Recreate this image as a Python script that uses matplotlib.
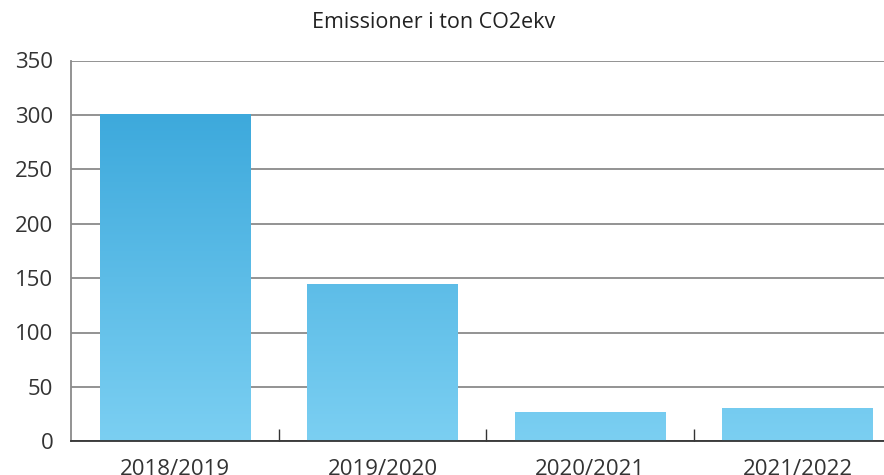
import numpy as np
import matplotlib.pyplot as plt
from matplotlib.colors import LinearSegmentedColormap

categories = ['2018/2019', '2019/2020', '2020/2021', '2021/2022']
values = [301, 145, 27, 31]
yticks = [0, 50, 100, 150, 200, 250, 300, 350]

plt.rcParams['font.family'] = ['Open Sans', 'DejaVu Sans']

W, H = 884, 475
fig = plt.figure(figsize=(W / 100, H / 100), dpi=100)
ax = fig.add_axes([71.25 / W, (H - 441.3) / H, (W - 71.25) / W, (441.3 - 60.5) / H])

x = np.arange(len(categories))
bars = ax.bar(x, values, width=0.723, color='none', edgecolor='none', zorder=3)

# vertical gradient shared by all bars (depends on value, not on bar)
cmap = LinearSegmentedColormap.from_list('blu', ['#7BCFF2', '#3DA9DC'])
grad = np.linspace(0, 1, 256).reshape(-1, 1)
for b in bars:
    im = ax.imshow(grad, cmap=cmap, origin='lower', aspect='auto',
                   extent=[-0.5, 3.5, 0, 301], zorder=3)
    im.set_clip_path(b)

ax.set_xlim(-0.5, 3.417)
ax.set_ylim(0, 350)
ax.set_yticks(yticks)
ax.set_yticklabels([str(v) for v in yticks])
ax.set_xticks(x)
ax.set_xticklabels(categories)
ax.set_xticks([0.5, 1.5, 2.5], minor=True)

ax.grid(axis='y', color='#8a8a8a', linewidth=1.3, zorder=1)
ax.set_axisbelow(True)
for s in ['top', 'right']:
    ax.spines[s].set_visible(False)
ax.spines['left'].set_color('#8a8a8a')
ax.spines['left'].set_linewidth(1.3)
ax.spines['bottom'].set_color('#333333')
ax.spines['bottom'].set_linewidth(1.3)
ax.spines['bottom'].set_zorder(4)

ax.tick_params(axis='y', length=0, pad=13, labelsize=16, labelcolor='#333333')
ax.tick_params(axis='x', which='major', length=0, pad=13, labelsize=16, labelcolor='#333333')
ax.tick_params(axis='x', which='minor', direction='in', length=9, width=1, color='#333333')

fig.text(434 / W, 1 - 22 / H, 'Emissioner i ton CO2ekv', ha='center', va='center',
         fontsize=15.5, color='#222222')

fig.savefig('out.png', dpi=100)
